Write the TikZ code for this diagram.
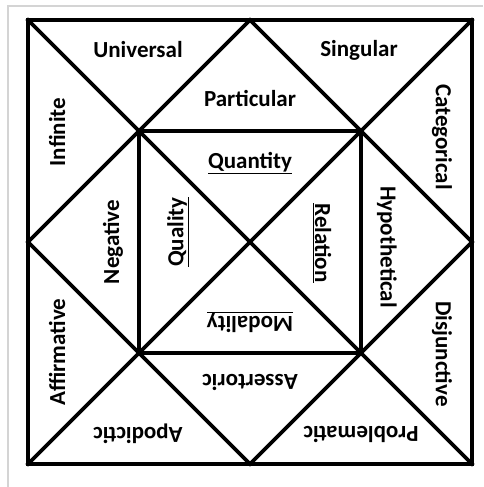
\documentclass[tikz,border=0pt]{standalone}
\usepackage{fontspec}
\setmainfont{Carlito}
\usepackage{xcolor}
\definecolor{framegray}{HTML}{D4D4D4}

\begin{document}
\begin{tikzpicture}[x=1pt, y=-1pt,
    edge/.style={line width=3.8pt, line join=miter, line cap=rect},
    lbl/.style={font=\bfseries\fontsize{23}{27}\selectfont, inner sep=0pt},
    frame/.style={framegray, line width=1.5pt}
  ]
    \useasboundingbox (0,0) rectangle (483,487);
    \draw[frame] (8,487) -- (8,6) -- (483,6);
    % outer square and its midpoints
    \coordinate (tl) at (28,20);
    \coordinate (tr) at (472,20);
    \coordinate (br) at (472,464);
    \coordinate (bl) at (28,464);
    \coordinate (mt) at (250,20);
    \coordinate (mr) at (472,242);
    \coordinate (mb) at (250,464);
    \coordinate (ml) at (28,242);
    % inner square
    \coordinate (itl) at (139,131);
    \coordinate (itr) at (361,131);
    \coordinate (ibr) at (361,353);
    \coordinate (ibl) at (139,353);
    \draw[edge] (tl) rectangle (br);
    \draw[edge] (mt) -- (mr) -- (mb) -- (ml) -- cycle;
    \draw[edge] (tl) -- (br);
    \draw[edge] (tr) -- (bl);
    \draw[edge] (itl) rectangle (ibr);
    % labels
    \node[lbl] (univ) at (138,50) {Universal};
    \node[lbl] (sing) at (359,50) {Singular};
    \node[lbl] (part) at (250,98) {Particular};
    \node[lbl] (quan) at (250,163) {\underline{Quantity}};
    \node[lbl, rotate=90] (infi) at (57,132) {Infinite};
    \node[lbl, rotate=-90] (cate) at (442,137) {Categorical};
    \node[lbl, rotate=90] (nega) at (113,242) {Negative};
    \node[lbl, rotate=90] (qual) at (178,232) {\underline{Quality}};
    \node[lbl, rotate=-90] (rela) at (322,243) {\underline{Relation}};
    \node[lbl, rotate=-90] (hypo) at (387,247) {Hypothetical};
    \node[lbl, rotate=90] (affi) at (57,352) {Affirmative};
    \node[lbl, rotate=-90] (disj) at (442,354) {Disjunctive};
    \node[lbl, rotate=180] (moda) at (250,322) {\underline{Modality}};
    \node[lbl, rotate=180] (asse) at (250,382) {Assertoric};
    \node[lbl, rotate=180] (apod) at (138,434) {Apodictic};
    \node[lbl, rotate=180] (prob) at (361,434) {Problematic};
\end{tikzpicture}
\end{document}
